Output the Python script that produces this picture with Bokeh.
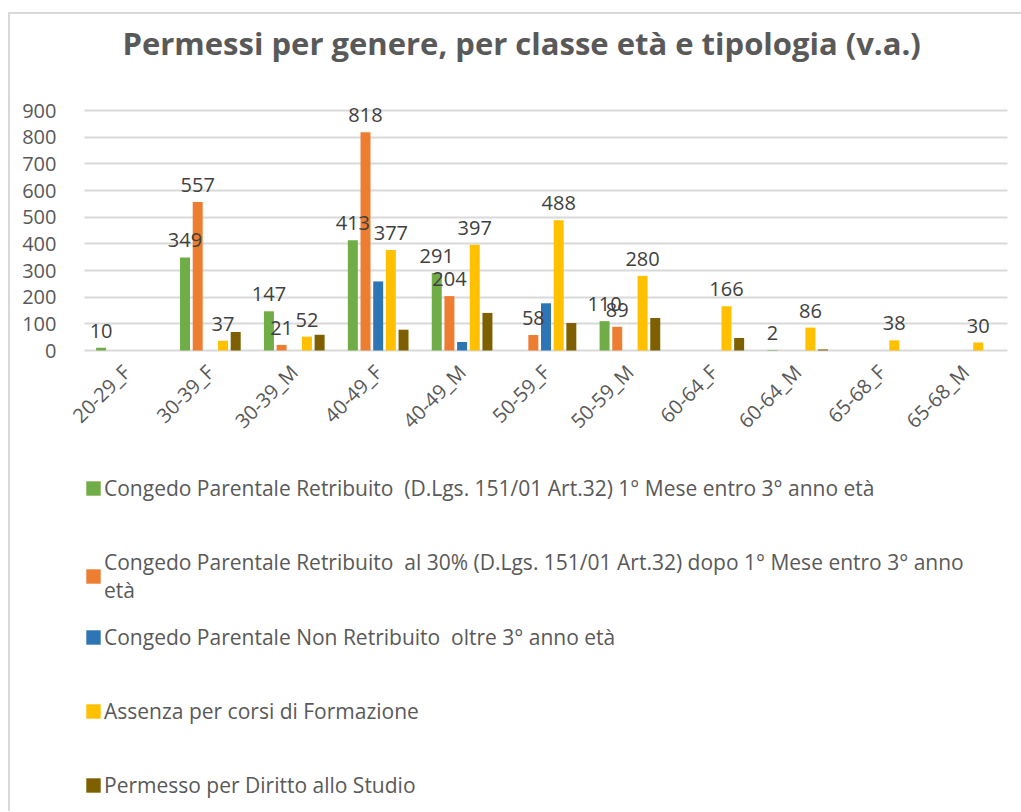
import math
from bokeh.plotting import figure
from bokeh.models import (ColumnDataSource, FactorRange, Legend, LegendItem,
                          FixedTicker, Range1d)
from bokeh.transform import dodge
from bokeh.core.properties import value
from bokeh.embed import file_html
from bokeh.resources import INLINE

categories = ["20-29_F", "30-39_F", "30-39_M", "40-49_F", "40-49_M", "50-59_F",
              "50-59_M", "60-64_F", "60-64_M", "65-68_F", "65-68_M"]

congedo_retribuito = [10, 349, 147, 413, 291, 0, 110, 0, 2, 0, 0]
congedo_30 = [0, 557, 21, 818, 204, 58, 89, 0, 0, 0, 0]
congedo_non_retribuito = [0, 0, 0, 259, 32, 177, 0, 0, 0, 0, 0]
assenza_formazione = [0, 37, 52, 377, 397, 488, 280, 166, 86, 38, 30]
diritto_studio = [0, 69, 59, 78, 141, 103, 122, 47, 4, 0, 0]

series_names = [
    "Congedo Parentale Retribuito  (D.Lgs. 151/01 Art.32) 1° Mese entro 3° anno età",
    "Congedo Parentale Retribuito  al 30% (D.Lgs. 151/01 Art.32) dopo 1° Mese entro 3° anno\netà",
    "Congedo Parentale Non Retribuito  oltre 3° anno età",
    "Assenza per corsi di Formazione",
    "Permesso per Diritto allo Studio",
]
series_values = [congedo_retribuito, congedo_30, congedo_non_retribuito,
                 assenza_formazione, diritto_studio]
colors = ["#70AD47", "#ED7D31", "#2E75B6", "#FFC000", "#7F6000"]
labelled = [True, True, False, True, False]

title = "Permessi per genere, per classe età e tipologia (v.a.)"
y_ticks = [0, 100, 200, 300, 400, 500, 600, 700, 800, 900]

FONT = "Open Sans"
GREY = "#595959"

# The frame reaches down to the bottom so that the legend can sit inside it;
# the category axis is pinned at value 0.
p = figure(x_range=FactorRange(factors=categories, range_padding=0.1669,
                               range_padding_units="absolute"),
           y_range=Range1d(-1728.75, 1057.5),
           frame_width=951, frame_height=743,
           output_backend="svg", toolbar_location=None,
           min_border_left=60, min_border_right=0, min_border_top=0,
           min_border_bottom=0)
p.margin = (12, 0, 0, 8)
p.styles = {"border-left": "2px solid #D9D9D9", "border-top": "2px solid #D9D9D9"}

p.title.text = title
p.title.text_font = FONT
p.title.text_font_size = "31px"
p.title.text_font_style = "bold"
p.title.text_color = GREY
p.title.align = "left"
p.title.offset = 52
p.title.standoff = 10

step = 0.151
width = 0.119
items = []
for i, (name, vals, col) in enumerate(zip(series_names, series_values, colors)):
    off = (i - 2) * step
    src = ColumnDataSource(dict(cat=categories, v=vals))
    r = p.vbar(x=dodge("cat", off, range=p.x_range), top="v", width=width,
               source=src, fill_color=col, line_color=None)
    items.append(LegendItem(label=name, renderers=[r]))

for i, (vals, lab) in enumerate(zip(series_values, labelled)):
    if not lab:
        continue
    off = (i - 2) * step
    cats_l = [c for c, v in zip(categories, vals) if v > 0]
    vals_l = [v for v in vals if v > 0]
    txt = [str(v) for v in vals_l]
    lsrc = ColumnDataSource(dict(cat=cats_l, v=vals_l, t=txt))
    p.text(x=dodge("cat", off, range=p.x_range), y="v", text="t", source=lsrc,
           text_font=value(FONT), text_font_size="20px", text_color="#404040",
           text_align="center", text_baseline="alphabetic", y_offset=-17)

p.yaxis.ticker = FixedTicker(ticks=y_ticks)
p.yaxis.axis_line_color = None
p.yaxis.major_tick_line_color = None
p.yaxis.minor_tick_line_color = None
p.yaxis.major_label_text_font = FONT
p.yaxis.major_label_text_font_size = "20px"
p.yaxis.major_label_text_color = GREY
p.yaxis.major_label_standoff = 8

p.xaxis.fixed_location = 0
p.xaxis.axis_line_color = None
p.xaxis.major_tick_line_color = None
p.xaxis.major_label_orientation = math.pi / 4
p.xaxis.major_label_text_font = FONT
p.xaxis.major_label_text_font_size = "20px"
p.xaxis.major_label_text_color = GREY
p.xaxis.major_label_standoff = 12

p.xgrid.grid_line_color = None
p.ygrid.grid_line_color = "#D9D9D9"
p.ygrid.grid_line_width = 2
p.ygrid.cross_bounds = (0, len(categories))
p.outline_line_color = None

common = dict(orientation="vertical",
              label_text_font=FONT, label_text_font_size="21px",
              label_text_color=GREY, glyph_width=18, glyph_height=18,
              label_standoff=2, padding=0, margin=0, border_line_color=None,
              background_fill_alpha=0)
legend_1 = Legend(items=items[:1], location=(14, 308), label_height=30, **common)
legend_2 = Legend(items=items[1:2], location=(14, 205), label_height=60, **common)
legend_3 = Legend(items=items[2:], location=(14, 11), label_height=30, spacing=44, **common)
for lg in (legend_1, legend_2, legend_3):
    p.add_layout(lg, "center")

open("out.html", "w").write(file_html(p, INLINE))
